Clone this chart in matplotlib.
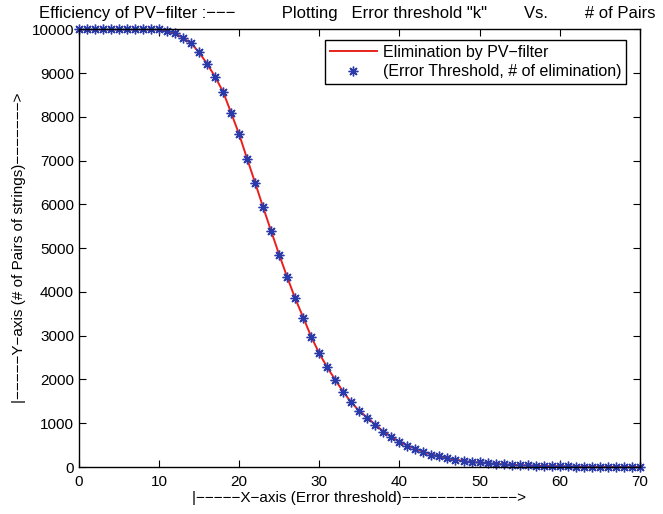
import numpy as np
import matplotlib
matplotlib.use("Agg")
import matplotlib.pyplot as plt

plt.rcParams['font.family'] = ['Liberation Sans', 'DejaVu Sans']
plt.rcParams['font.size'] = 11

# error threshold k (0..70)
k = list(range(0, 71))
# number of pairs eliminated by PV-filter
pairs = [10000, 10000, 10000, 10000, 10000, 10000, 10000, 10000, 10000, 10000,
         10000, 9965, 9910, 9800, 9680, 9475, 9210, 8915, 8570, 8090,
         7600, 7040, 6490, 5930, 5385, 4850, 4335, 3850, 3415, 2975,
         2595, 2275, 1990, 1715, 1475, 1280, 1130, 965, 810, 690,
         575, 490, 420, 345, 285, 250, 200, 168, 137, 110,
         105, 88, 72, 60, 50, 42, 35, 29, 24, 20,
         17, 14, 11, 9, 7, 6, 5, 4, 3, 2, 0]

title = ('Efficiency of PV\u2212filter :\u2212\u2212\u2212' + ' ' * 10 + 'Plotting   Error threshold "k"'
         + ' ' * 8 + 'Vs.' + ' ' * 8 + '# of Pairs')
xlab = '|\u2212\u2212\u2212\u2212\u2212X\u2212axis (Error threshold)' + '\u2212' * 13 + '>'
ylab = '|\u2212\u2212\u2212\u2212\u2212Y\u2212axis (# of Pairs of strings)' + '\u2212' * 7 + '>'

fig = plt.figure(figsize=(6.63, 5.14), dpi=100)
ax = fig.add_axes([0.119, 0.0914, 0.846, 0.8516])

ax.plot(k, pairs, color='#e8201c', lw=1.4, label='Elimination by PV\u2212filter')
ax.plot(k, pairs, ls='none', marker=(8, 2, 0), ms=7, mew=1.0, color='#2a3aa8',
        clip_on=False, label='(Error Threshold, # of elimination)')

ax.set_xlim(0, 70)
ax.set_ylim(0, 10000)
ax.set_xticks(np.arange(0, 71, 10))
ax.set_yticks(np.arange(0, 10001, 1000))
ax.tick_params(direction='in', top=True, right=True, length=5, width=0.8, labelsize=11)
ax.tick_params(axis='x', pad=6)
for s in ax.spines.values():
    s.set_linewidth(1.0)

ax.set_title(title, fontsize=12, pad=8, x=0.478)
ax.set_xlabel(xlab, labelpad=1)
ax.set_ylabel(ylab, labelpad=4)

leg = ax.legend(loc='upper right', bbox_to_anchor=(0.976, 0.976), fancybox=False,
                edgecolor='black', framealpha=1, borderpad=0.3, labelspacing=0.3,
                handlelength=3.0, handletextpad=0.35, borderaxespad=0, fontsize=11.5)
leg.get_frame().set_linewidth(1.0)

fig.savefig('out.png', dpi=100)
